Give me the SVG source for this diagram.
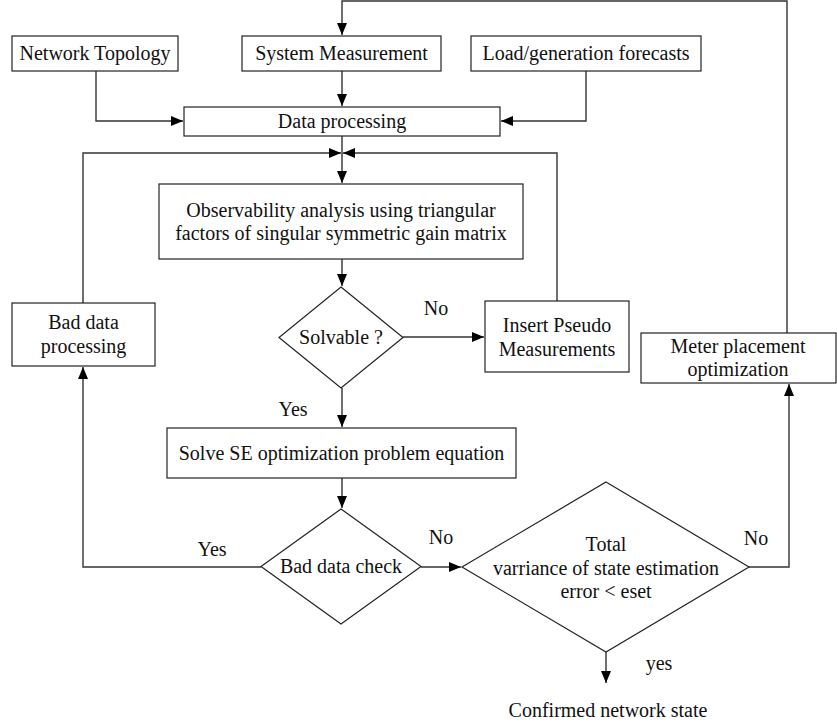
<svg xmlns="http://www.w3.org/2000/svg" width="837" height="727" viewBox="0 0 837 727">
<defs>
<marker id="ah" markerUnits="userSpaceOnUse" markerWidth="13" markerHeight="11" refX="12" refY="5" orient="auto">
<path d="M0,0 L12,5 L0,10 Z" fill="#000"/>
</marker>
<style>
text{font-family:"Liberation Serif","Times New Roman",serif;font-size:20px;fill:#111;text-anchor:middle}
.b{fill:#fff;stroke:#222;stroke-width:1.2}
.c{fill:none;stroke:#333;stroke-width:1.4}
.a{marker-end:url(#ah)}
</style>
</defs>
<rect width="837" height="727" fill="#fff"/>
<g id="connectors">
<path class="c a" d="M787,333 V1 H342 V35"/>
<path class="c a" d="M96,71 V121 H183"/>
<path class="c a" d="M342,71 V106"/>
<path class="c a" d="M586,71 V121 H501"/>
<path class="c" d="M342,136 V153"/>
<path class="c a" d="M83,303 V153 H341"/>
<path class="c a" d="M557,301 V153 H343"/>
<path class="c a" d="M342,153 V183"/>
<path class="c a" d="M342,259 V286"/>
<path class="c a" d="M403,337 H484"/>
<path class="c a" d="M342,388 V427"/>
<path class="c a" d="M342,478 V508"/>
<path class="c a" d="M261,567 H83 V367"/>
<path class="c a" d="M421,567 H461"/>
<path class="c a" d="M749,567 H789 V384"/>
<path class="c a" d="M606,652 V683"/>
</g>
<g id="network-topology"><rect class="b" x="12" y="36" width="166" height="35"/><text x="95" y="60">Network Topology</text></g>
<g id="system-measurement"><rect class="b" x="242" y="36" width="199" height="35"/><text x="341.5" y="60">System Measurement</text></g>
<g id="load-forecasts"><rect class="b" x="471" y="36" width="230" height="35"/><text x="586" y="60">Load/generation forecasts</text></g>
<g id="data-processing"><rect class="b" x="184" y="107" width="316" height="29"/><text x="342" y="128">Data processing</text></g>
<g id="observability"><rect class="b" x="159" y="184" width="364" height="75"/><text x="341" y="217">Observability analysis using triangular</text><text x="341" y="240">factors of singular symmetric gain matrix</text></g>
<g id="solvable"><polygon class="b" points="341,287 403,337.5 341,388 279,337.5"/><text x="341" y="344">Solvable ?</text></g>
<g id="bad-data-processing"><rect class="b" x="12" y="303" width="143" height="63"/><text x="83.5" y="329">Bad data</text><text x="83.5" y="353">processing</text></g>
<g id="insert-pseudo"><rect class="b" x="485" y="301" width="144" height="71"/><text x="557" y="332">Insert Pseudo</text><text x="557" y="356">Measurements</text></g>
<g id="meter-placement"><rect class="b" x="641" y="333" width="195" height="50"/><text x="738" y="353">Meter placement</text><text x="738" y="376">optimization</text></g>
<g id="solve-se"><rect class="b" x="167" y="428" width="349" height="50"/><text x="341.5" y="460">Solve SE optimization problem equation</text></g>
<g id="bad-data-check"><polygon class="b" points="341,509 421,566.5 341,624 261,566.5"/><text x="341" y="573">Bad data check</text></g>
<g id="total-variance"><polygon class="b" points="606,482 749,567 606,652 462,567"/><text x="606" y="551">Total</text><text x="606" y="575">varriance of state estimation</text><text x="606" y="598">error &lt; eset</text></g>
<g id="confirmed"><text x="608" y="717">Confirmed network state</text></g>
<g id="labels">
<text x="436" y="315">No</text>
<text x="293" y="416">Yes</text>
<text x="212" y="556">Yes</text>
<text x="441" y="544">No</text>
<text x="756" y="545">No</text>
<text x="659" y="670">yes</text>
</g>
</svg>
